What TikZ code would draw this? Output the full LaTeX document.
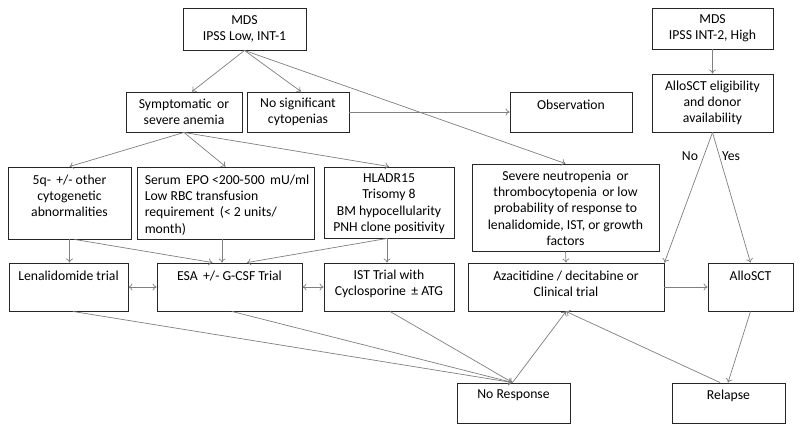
\documentclass[tikz,border=0pt]{standalone}
\usepackage{fontspec}
\setmainfont{Carlito}
\usetikzlibrary{arrows.meta,calc}
\begin{document}
\begin{tikzpicture}[x=1pt,y=-1pt,
  txt/.style={font=\fontsize{13.7}{16.3}\selectfont, text=black},
  box/.style={draw=black!85, line width=0.9pt, rectangle, inner sep=0pt, align=center, txt},
  toptext/.style={anchor=north, inner sep=0pt, align=center, txt},
  con/.style={draw=black!50, line width=0.7pt, -{To[length=4pt,width=7pt]}},
  dcon/.style={draw=black!50, line width=0.7pt, {To[length=4pt,width=7pt]}-{To[length=4pt,width=7pt]}}
]
\fill[white] (0,0) rectangle (800,432);
\useasboundingbox (0,0) rectangle (800,432);

% boxes
\node[box, minimum width=123pt, minimum height=42pt] (mdsL) at (244.5,29) {MDS\\IPSS Low, INT-1};
\node[box, minimum width=116pt, minimum height=40pt] (sympt) at (184,112) {Symptomatic\, or\\severe anemia};
\node[box, minimum width=102pt, minimum height=40pt] (nosig) at (298,112) {No significant\\cytopenias};
\node[box, minimum width=122pt, minimum height=40pt,
  label={[toptext, yshift=-8pt]north:{Observation}}] (obs) at (571,112) {};
\node[box, minimum width=121pt, minimum height=41pt] (mdsR) at (712.5,28.5) {MDS\\IPSS INT-2, High};
\node[box, minimum width=121pt, minimum height=58pt] (elig) at (712.5,103) {AlloSCT eligibility\\and donor\\availability};

\node[box, minimum width=123pt, minimum height=72pt,
  label={[toptext, yshift=-8pt]north:{5q-\, +/- other\\cytogenetic\\abnormalities}}] (q5) at (69.5,203) {};
\node[box, minimum width=177pt, minimum height=72pt,
  label={[anchor=north west, inner sep=0pt, align=left, txt, xshift=8pt, yshift=-8pt]north west:{Serum\, EPO <200-500\, mU/ml\\Low RBC transfusion\\requirement\, (< 2 units/\\month)}}] (epo) at (225.5,203) {};
\node[box, minimum width=130pt, minimum height=71pt,
  label={[toptext, yshift=-7pt]north:{HLADR15\\Trisomy 8\\BM hypocellularity\\PNH clone positivity}}] (hla) at (389,202.5) {};
\node[box, minimum width=187pt, minimum height=87pt,
  label={[toptext, yshift=-7pt]north:{Severe neutropenia\, or\\thrombocytopenia\, or low\\probability of response to\\lenalidomide, IST, or growth\\factors}}] (sev) at (565.5,207.5) {};

\node[box, minimum width=119pt, minimum height=48pt,
  label={[toptext, yshift=-8pt]north:{Lenalidomide trial}}] (len) at (68.5,287) {};
\node[box, minimum width=145pt, minimum height=48pt,
  label={[toptext, yshift=-8pt]north:{ESA\, +/- G-CSF Trial}}] (esa) at (229.5,287) {};
\node[box, minimum width=130pt, minimum height=48pt,
  label={[toptext, yshift=-7pt]north:{IST Trial with\\Cyclosporine\, ± ATG}}] (ist) at (389,287) {};
\node[box, minimum width=196pt, minimum height=48pt,
  label={[toptext, yshift=-8pt]north:{Azacitidine / decitabine or\\Clinical trial}}] (aza) at (566,287) {};
\node[box, minimum width=85pt, minimum height=48pt,
  label={[toptext, yshift=-8pt]north:{AlloSCT}}] (allo) at (750.5,287) {};

\node[box, minimum width=113pt, minimum height=40pt,
  label={[toptext, yshift=-7pt]north:{No Response}}] (nores) at (513.5,403) {};
\node[box, minimum width=113pt, minimum height=40pt,
  label={[toptext, yshift=-7pt]north:{Relapse}}] (relapse) at (728.5,403) {};

\node[txt, inner sep=0pt] (nolab) at (690,156) {No};
\node[txt, inner sep=0pt] (yeslab) at (731,156) {Yes};

% connectors
\draw[con] (mdsL.south) -- ([xshift=8pt]sympt.north);
\draw[con] (mdsL.south) -- ([xshift=3pt]nosig.north);
\draw[con] (mdsL.south) -- (sev.north);
\draw[con] (nosig.east) -- (obs.west);
\draw[con] (sympt.south) -- (q5.north);
\draw[con] (sympt.south) -- (epo.north);
\draw[con] (sympt.south) -- (hla.north);
\draw[con] (q5.south) -- (q5.south |- len.north);
\draw[con] ([xshift=5pt]q5.south) -- ([xshift=-17pt]esa.north);
\draw[con] ([xshift=-3.5pt]epo.south) -- ([xshift=-7.5pt]esa.north);
\draw[con] ([xshift=-2pt]hla.south) -- ([xshift=17.5pt]esa.north);
\draw[con] ([xshift=-2pt]hla.south) -- ([xshift=-2pt]ist.north);
\draw[dcon] (len.east) -- (esa.west);
\draw[dcon] (esa.east) -- (ist.west);
\draw[con] ([xshift=4.5pt]len.south) -- ([xshift=-1pt]nores.north);
\draw[con] ([xshift=2.5pt]esa.south) -- ([xshift=-1pt]nores.north);
\draw[con] ([xshift=1pt]ist.south) -- ([xshift=-1pt]nores.north);
\draw[con] ([xshift=-1pt]nores.north) -- (aza.south);
\draw[con] ([xshift=-8.5pt]relapse.north) -- (aza.south);
\draw[con] (allo.south) -- ([xshift=-0.5pt]relapse.north);
\draw[con] (aza.east) -- (allo.west);
\draw[con] (sev.south) -- (aza.north);
\draw[con] (elig.south) -- (aza.north east);
\draw[con] (elig.south) -- (allo.north);
\draw[con] (mdsR.south) -- (elig.north);
\end{tikzpicture}
\end{document}
